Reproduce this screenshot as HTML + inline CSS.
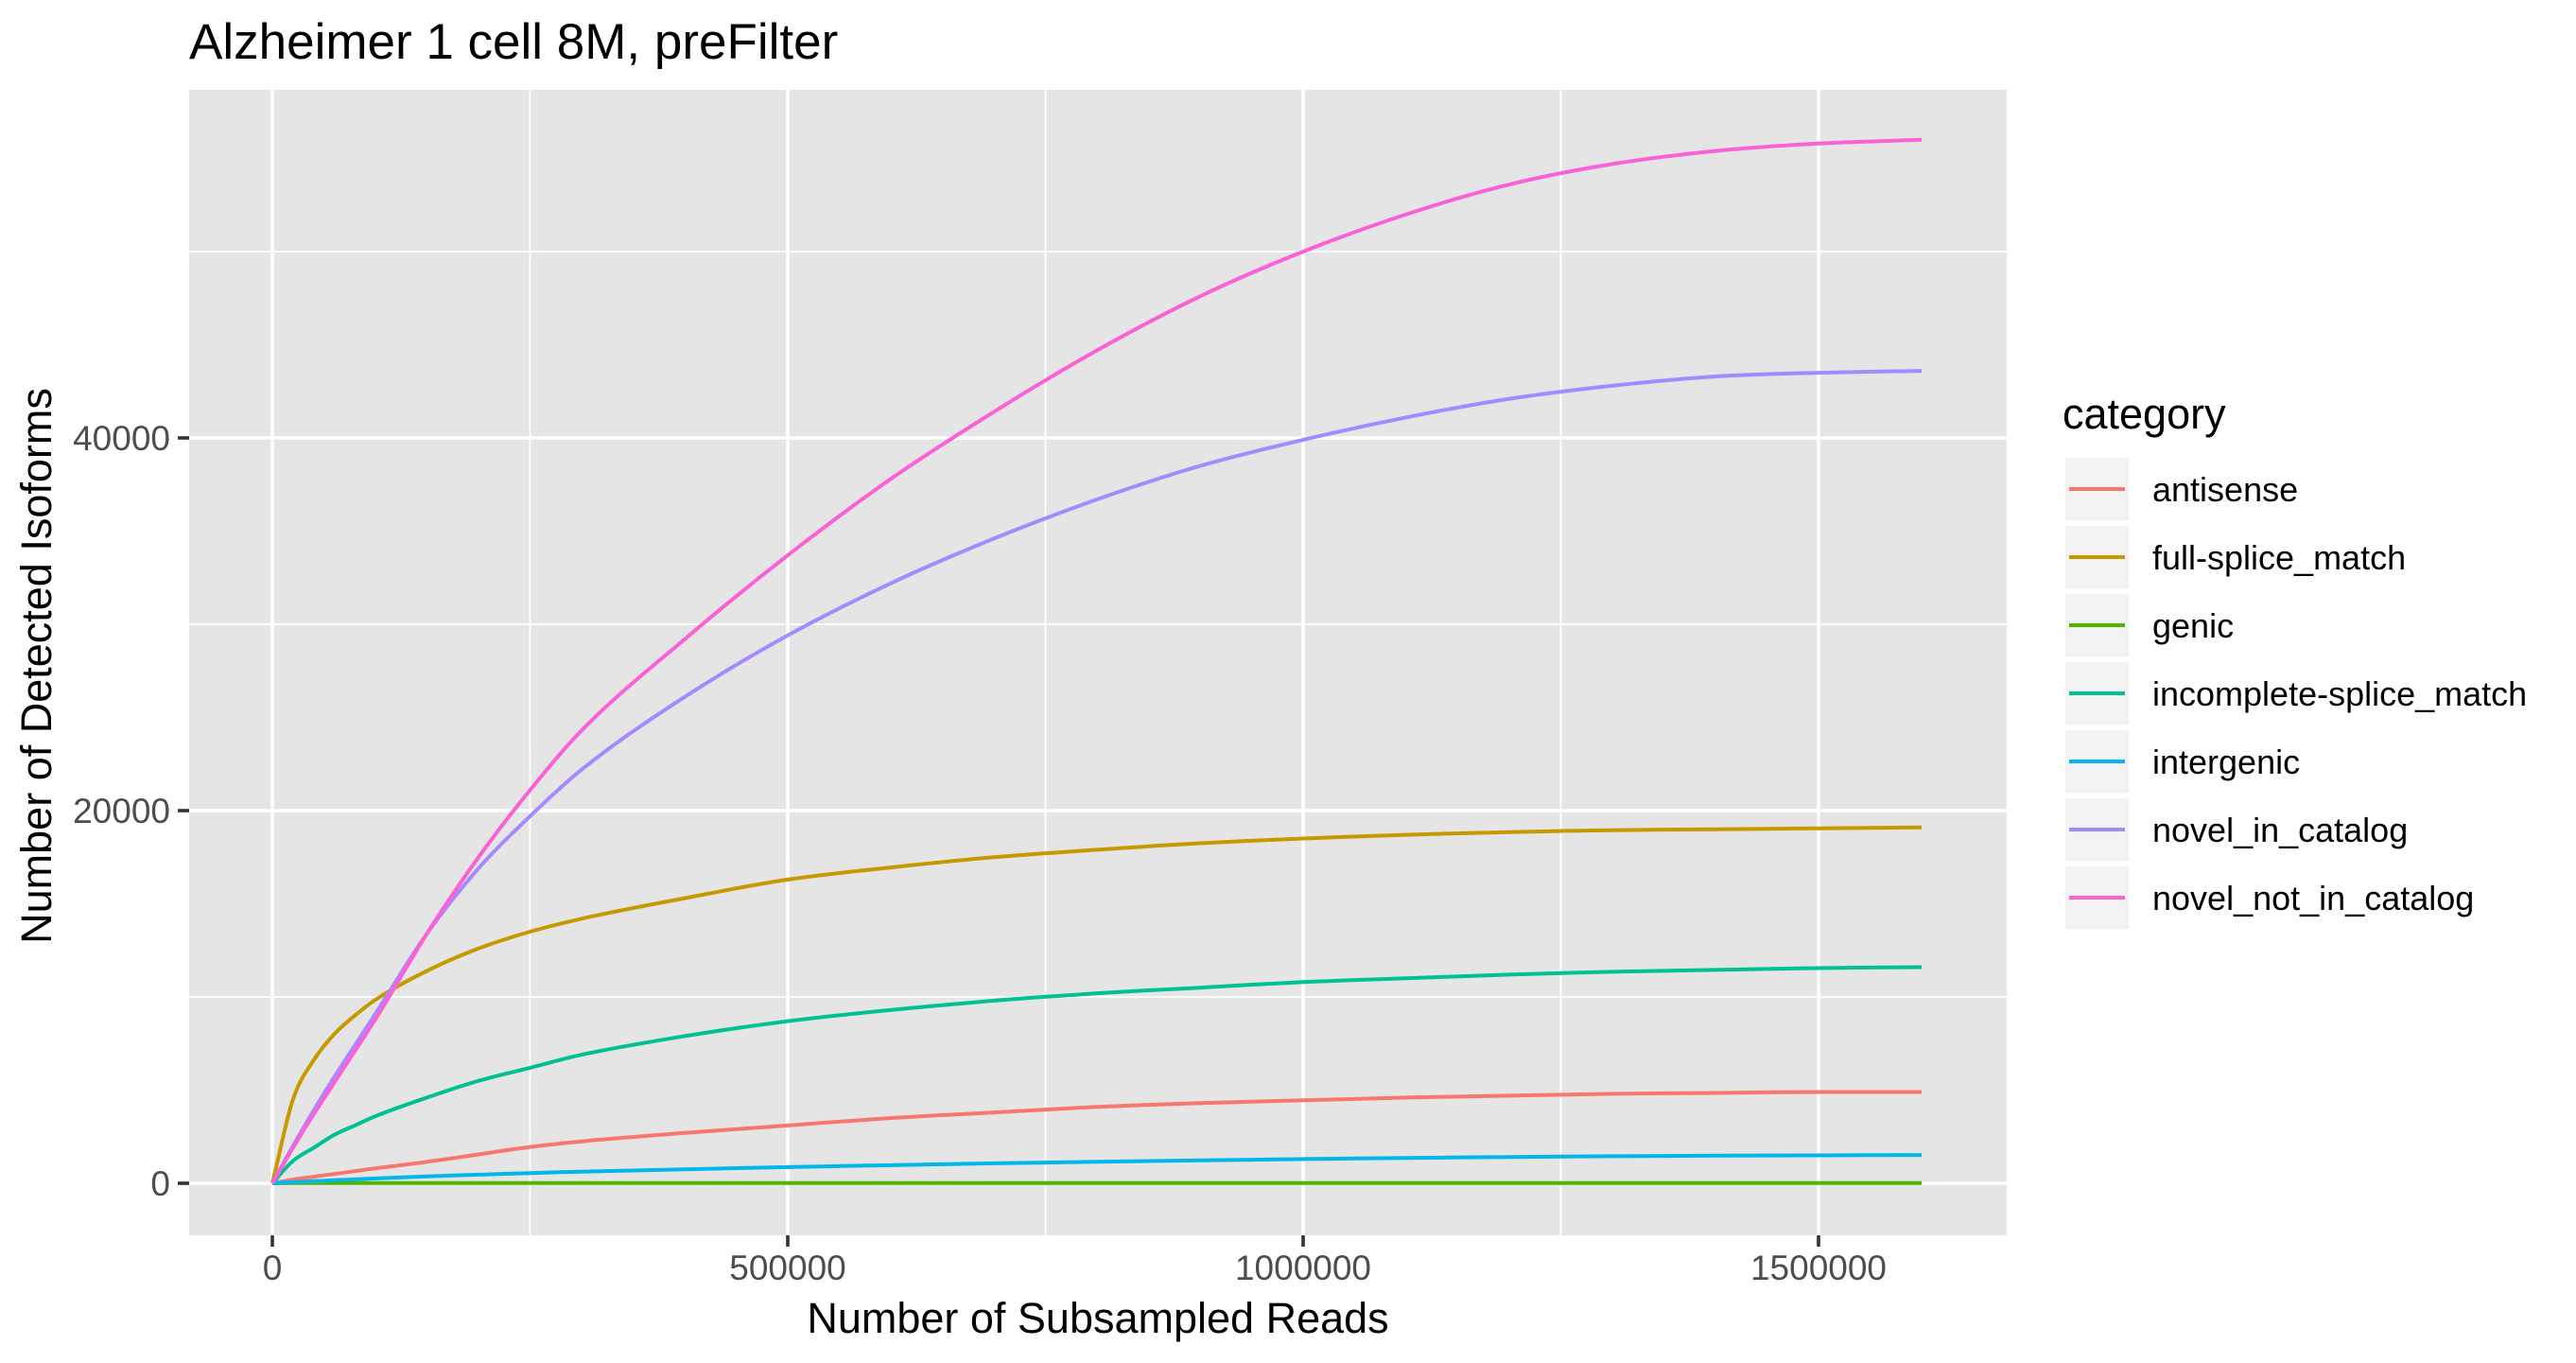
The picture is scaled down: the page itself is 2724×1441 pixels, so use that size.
<!DOCTYPE html>
<html><head><meta charset="utf-8">
<style>
html,body{margin:0;padding:0;background:#fff;}
svg{display:block;font-family:"Liberation Sans",Arial,sans-serif;}
</style></head>
<body>
<svg id="chart" width="2724" height="1441" viewBox="0 0 2724 1441" xmlns="http://www.w3.org/2000/svg">
<text x="200" y="62" font-size="53" fill="#000">Alzheimer 1 cell 8M, preFilter</text>
<rect x="200" y="95" width="1922" height="1211" fill="#e5e5e5"/>
<g id="grid"></g>
<g id="series"></g>
<g id="axes"></g>
<text x="1161" y="1409" font-size="45" text-anchor="middle" fill="#000">Number of Subsampled Reads</text>
<text transform="translate(54,704) rotate(-90)" font-size="45" text-anchor="middle" fill="#000">Number of Detected Isoforms</text>
<g id="legend">
<text x="2181" y="453" font-size="45" fill="#000">category</text>
</g>
</svg>
<script>
const xs = [0,20000,40000,60000,80000,100000,150000,200000,250000,300000,400000,500000,600000,700000,800000,900000,1000000,1100000,1200000,1300000,1400000,1500000,1600000];
const categories = ["antisense","full-splice_match","genic","incomplete-splice_match","intergenic","novel_in_catalog","novel_not_in_catalog"];
const colors = ["#F8766D","#C49A00","#53B400","#00C094","#00B6EB","#A58AFF","#FB61D7"];
const antisense = [0,200,350,500,650,800,1150,1550,1950,2250,2700,3100,3500,3800,4100,4300,4450,4600,4700,4800,4850,4900,4900];
const fullSplice = [0,4500,6600,8000,9000,9850,11400,12600,13500,14200,15300,16300,16950,17500,17900,18250,18500,18700,18850,18950,19000,19050,19100];
const genic = [0,10,10,10,10,10,10,10,10,10,10,10,10,10,10,10,10,10,10,10,10,10,10];
const incomplete = [0,1200,1900,2600,3100,3600,4600,5500,6200,6900,7900,8700,9300,9800,10200,10500,10800,11000,11200,11350,11450,11550,11600];
const intergenic = [0,60,110,160,210,260,370,460,550,620,750,870,970,1070,1150,1230,1300,1360,1410,1450,1480,1500,1520];
const novelIn = [0,2000,3900,5700,7400,9100,13400,16900,19700,22200,26100,29400,32200,34600,36700,38500,39900,41100,42100,42800,43300,43500,43600];
const novelNot = [0,1900,3700,5400,7100,8800,13400,17500,21100,24300,29200,33700,37800,41400,44700,47600,50000,52000,53600,54700,55400,55800,56000];
const seriesValues = [antisense,fullSplice,genic,incomplete,intergenic,novelIn,novelNot];
const xMajor = [0,500000,1000000,1500000];
const xMajorLabels = ["0","500000","1000000","1500000"];
const xMinor = [250000,750000,1250000];
const yMajor = [0,20000,40000];
const yMajorLabels = ["0","20000","40000"];
const yMinor = [10000,30000,50000];

const NS="http://www.w3.org/2000/svg";
const X0=288, XPER=545/500000, Y0=1251, YPER=197/10000;
const PL=200, PR=2122, PT=95, PB=1306;
function sx(v){return X0+v*XPER;}
function sy(v){return Y0-v*YPER;}
function mk(tag,attrs,parent){const e=document.createElementNS(NS,tag);for(const k in attrs)e.setAttribute(k,attrs[k]);parent.appendChild(e);return e;}
function smoothPath(P){
  // monotone cubic (Fritsch-Carlson) through points
  const n=P.length, d=[], m=[];
  for(let i=0;i<n-1;i++){d.push((P[i+1][1]-P[i][1])/(P[i+1][0]-P[i][0]));}
  m.push(d[0]);
  for(let i=1;i<n-1;i++){m.push(d[i-1]*d[i]<=0?0:(d[i-1]+d[i])/2);}
  m.push(d[n-2]);
  for(let i=0;i<n-1;i++){if(d[i]===0){m[i]=0;m[i+1]=0;continue;}
    const a=m[i]/d[i], b=m[i+1]/d[i], s=a*a+b*b; if(s>9){const t=3/Math.sqrt(s);m[i]=t*a*d[i];m[i+1]=t*b*d[i];}}
  let s='M'+P[0][0].toFixed(1)+','+P[0][1].toFixed(1);
  for(let i=0;i<n-1;i++){const h=(P[i+1][0]-P[i][0])/3;
    s+=' C'+(P[i][0]+h).toFixed(1)+','+(P[i][1]+m[i]*h).toFixed(1)+' '+(P[i+1][0]-h).toFixed(1)+','+(P[i+1][1]-m[i+1]*h).toFixed(1)+' '+P[i+1][0].toFixed(1)+','+P[i+1][1].toFixed(1);}
  return s;
}
const grid=document.getElementById('grid'), ser=document.getElementById('series'), axes=document.getElementById('axes'), leg=document.getElementById('legend');

xMinor.forEach(v=>{const l=mk('line',{x1:sx(v),x2:sx(v),y1:PT,y2:PB,stroke:'#fff','stroke-width':1.8},grid);

});
yMinor.forEach(v=>{const l=mk('line',{x1:PL,x2:PR,y1:sy(v),y2:sy(v),stroke:'#fff','stroke-width':1.8},grid);

});
xMajor.forEach((v,i)=>{const l=mk('line',{x1:sx(v),x2:sx(v),y1:PT,y2:PB,stroke:'#fff','stroke-width':3.6},grid);


const t=mk('line',{x1:sx(v),x2:sx(v),y1:PB,y2:PB+12,stroke:'#333','stroke-width':3.6},axes);


const tx=mk('text',{x:sx(v),y:PB+47,'font-size':37,'text-anchor':'middle',fill:'#4d4d4d'},axes);
tx.textContent=xMajorLabels[i];

});
yMajor.forEach((v,i)=>{const l=mk('line',{x1:PL,x2:PR,y1:sy(v),y2:sy(v),stroke:'#fff','stroke-width':3.6},grid);


const t=mk('line',{x1:PL-12,x2:PL,y1:sy(v),y2:sy(v),stroke:'#333','stroke-width':3.6},axes);


const tx=mk('text',{x:PL-20,y:sy(v)+13,'font-size':37,'text-anchor':'end',fill:'#4d4d4d'},axes);
tx.textContent=yMajorLabels[i];

});

seriesValues.forEach((vals,i)=>{
  const pts=vals.map((v,j)=>[sx(xs[j]),sy(v)]);
  const p=mk('path',{d:smoothPath(pts),fill:'none',stroke:colors[i],'stroke-width':4,'stroke-linejoin':'round'},ser);
  
  
  const ky=484+i*72;
  const k=mk('rect',{x:2184,y:ky,width:67,height:66,fill:'#f2f2f2'},leg);
  
  
  const kl=mk('line',{x1:2188,x2:2247,y1:ky+33,y2:ky+33,stroke:colors[i],'stroke-width':4},leg);
  
  
  const lt=mk('text',{x:2276,y:ky+46,'font-size':36,fill:'#000'},leg);
  lt.textContent=categories[i];
  
  
});
</script>
</body></html>
